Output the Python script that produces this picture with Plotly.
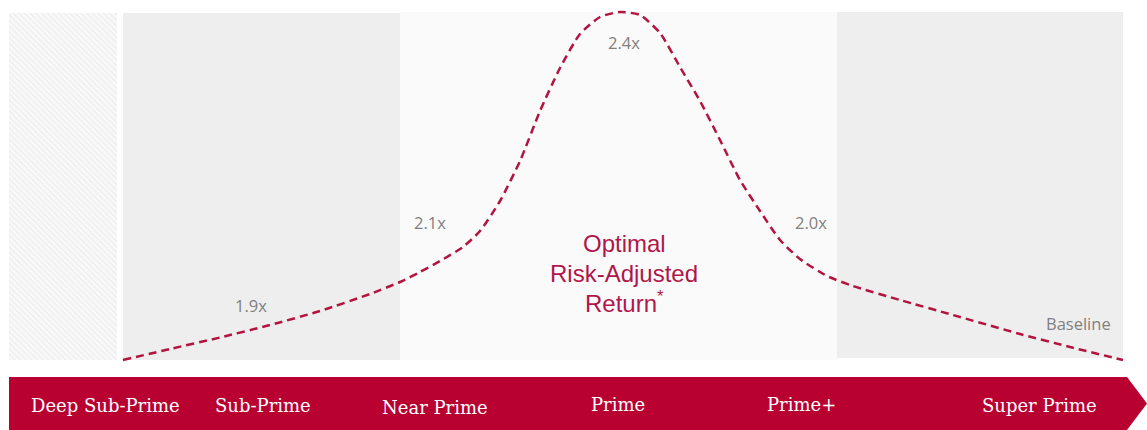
import plotly.graph_objects as go

# ---------------- data ----------------
tiers = ["Deep Sub-Prime", "Sub-Prime", "Near Prime", "Prime", "Prime+", "Super Prime"]

# illustrative return curve (horizontal score position, curve height)
curve_x = [123, 170, 220, 270, 320, 370, 400, 420, 440, 463, 480, 500, 520, 540, 560, 580, 600,
           620, 640, 660, 680, 700, 720, 740, 760, 780, 800, 827, 853, 900, 953, 1020, 1070, 1123]
curve_y = [360, 349, 337.5, 325, 311, 294, 282, 272, 261, 247, 231, 201, 161, 111, 68, 34, 17,
           12, 15, 33, 67, 101, 140, 180, 211, 240, 259, 276, 286, 300, 315, 334, 347, 360]

multiple_labels = ["1.9x", "2.1x", "2.4x", "2.0x", "Baseline"]

# ---------------- layout constants ----------------
W, H = 1147, 430
tier_label_x = [105, 263, 435, 618, 801, 1039]
tier_label_y = [405, 405, 407, 404, 404, 405]
mult_x = [251, 430, 624, 811, 1078]
mult_y = [305, 222, 42, 222, 323]

RED = "#b80031"
LINE = "#b3143f"
GREY_TXT = "#7f7f7f"

fig = go.Figure()

# hatched deep sub-prime panel
fig.add_trace(go.Bar(
    x=[63], y=[347], base=[13], width=[108],
    marker=dict(color="#f9f9f9", line=dict(width=0),
                pattern=dict(shape="\\", fgcolor="#e0e0e0", bgcolor="#f9f9f9",
                             size=4, solidity=0.3)),
    hoverinfo="skip", showlegend=False))

# background panels
fig.add_shape(type="rect", x0=123, x1=400, y0=13, y1=360, fillcolor="#efeeef",
              line_width=0, layer="below")
fig.add_shape(type="rect", x0=400, x1=837, y0=12, y1=360, fillcolor="#fafafa",
              line_width=0, layer="below")
fig.add_shape(type="rect", x0=837, x1=1123, y0=12, y1=358, fillcolor="#efeeef",
              line_width=0, layer="below")

# red arrow band
fig.add_trace(go.Scatter(
    x=[9, 1127, 1147, 1127, 9, 9], y=[377, 377, 403.5, 430, 430, 377],
    fill="toself", fillcolor=RED, line=dict(width=0, color=RED), mode="lines",
    hoverinfo="skip", showlegend=False))

# dashed curve
fig.add_trace(go.Scatter(
    x=curve_x, y=curve_y, mode="lines",
    line=dict(color=LINE, width=2.5, dash="8px,5px", shape="spline", smoothing=0.6),
    hoverinfo="skip", showlegend=False))

# tier labels
for t, x, y in zip(tiers, tier_label_x, tier_label_y):
    fig.add_annotation(x=x, y=y, text=t, showarrow=False, xanchor="center", yanchor="middle",
                       font=dict(family="DejaVu Serif", size=18, color="white"))

# multiple labels
for t, x, y in zip(multiple_labels, mult_x, mult_y):
    fig.add_annotation(x=x, y=y, text=t, showarrow=False, xanchor="center", yanchor="middle",
                       font=dict(family="Open Sans", size=16.5, color=GREY_TXT))

# center text
for t, y in zip(["Optimal", "Risk-Adjusted", "Return<sup>*</sup>"], [243, 273, 302]):
    fig.add_annotation(x=624, y=y, text=t, showarrow=False, xanchor="center", yanchor="middle",
                       font=dict(family="Liberation Sans", size=24, color="#b0164a"))

fig.update_layout(
    width=W, height=H, margin=dict(l=0, r=0, t=0, b=0),
    paper_bgcolor="white", plot_bgcolor="white",
    xaxis=dict(range=[0, W], visible=False, fixedrange=True),
    yaxis=dict(range=[H, 0], visible=False, fixedrange=True),
    bargap=0,
)

fig.write_html("out.html", config={"displayModeBar": False},
               post_script="document.body.style.margin='0';document.body.style.overflow='hidden';")
